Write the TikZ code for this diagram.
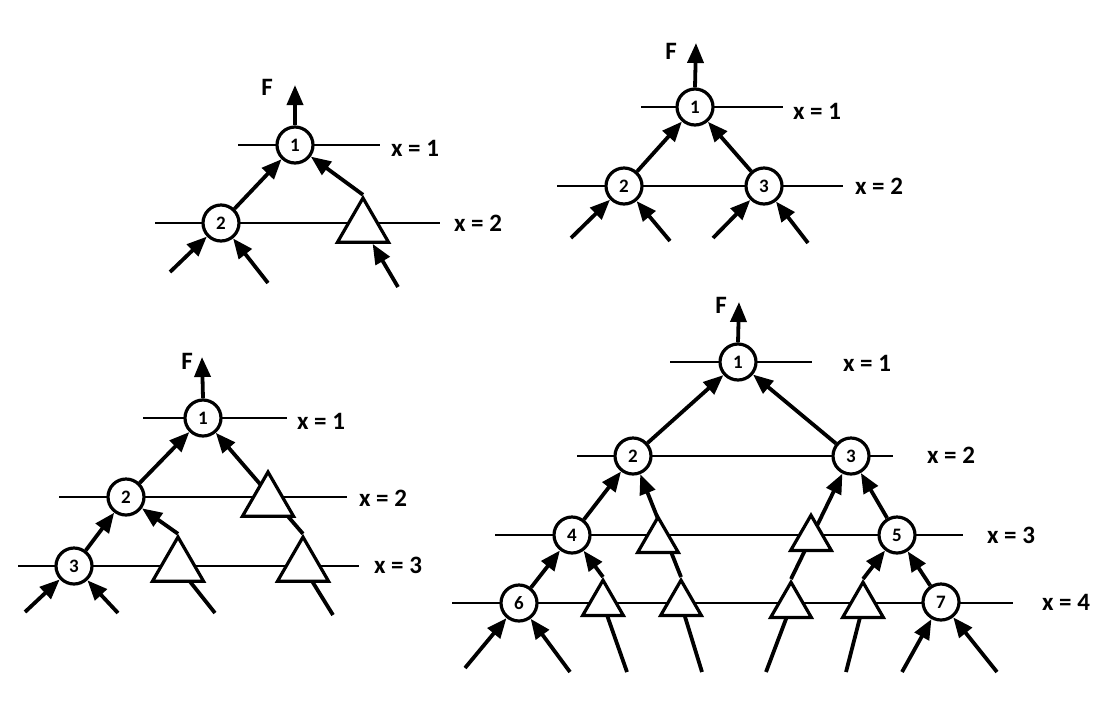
\documentclass[tikz,border=0pt]{standalone}
\usepackage{fontspec}
\setmainfont{Carlito}
\usetikzlibrary{arrows.meta,shapes.geometric}
\pgfdeclarelayer{background}
\pgfsetlayers{background,main}
\tikzset{
  circ/.style={circle,draw,line width=3.2pt,fill=white,minimum size=36pt,inner sep=0pt,outer sep=1.6pt,font=\bfseries\fontsize{19}{19}\selectfont},
  tribig/.style={regular polygon,regular polygon sides=3,draw,line width=3.2pt,fill=white,minimum size=59pt,inner sep=0pt,outer sep=1.6pt},
  trismall/.style={tribig,minimum size=47pt},
  lvl/.style={line width=2pt},
  arr/.style={line width=3.8pt,-{Triangle[length=20pt,width=16pt]}},
  plain/.style={line width=3.8pt},
  lab/.style={font=\bfseries\fontsize{25}{25}\selectfont,inner sep=0pt},
}
\begin{document}
\begin{tikzpicture}[x=1pt,y=-1pt]
\useasboundingbox (0,0) rectangle (1110,705);
% ---------- Diagram 1 ----------
\node[circ] (a1) at (295,145) {1};
\node[circ] (a2) at (221,223) {2};
\node[tribig] (at) at (363,227.5) {};
\node[lab] (aFl) at (267,87) {F};
\node[lab] (ax1) at (415,148) {x = 1};
\node[lab] (ax2) at (478,223) {x = 2};
\coordinate (aF) at (295,85);
\coordinate (aL1s) at (238,145); \coordinate (aL1e) at (380,145);
\coordinate (aL2s) at (155,223); \coordinate (aL2e) at (440,223);
\coordinate (ai1) at (170,272); \coordinate (ai2) at (268,283); \coordinate (ai3) at (398,287);
% ---------- Diagram 2 ----------
\node[circ] (b1) at (695,107) {1};
\node[circ] (b2) at (624,186) {2};
\node[circ] (b3) at (764,186) {3};
\node[lab] (bFl) at (671,51) {F};
\node[lab] (bx1) at (817,111) {x = 1};
\node[lab] (bx2) at (879,186) {x = 2};
\coordinate (bF) at (696,43);
\coordinate (bL1s) at (641,107); \coordinate (bL1e) at (783,107);
\coordinate (bL2s) at (557,186); \coordinate (bL2e) at (843,186);
\coordinate (bi1) at (571,238); \coordinate (bi2) at (670,241);
\coordinate (bi3) at (713,238); \coordinate (bi4) at (808,243);
% ---------- Diagram 3 ----------
\node[circ] (c1) at (203,418) {1};
\node[circ] (c2) at (126,497) {2};
\node[circ] (c3) at (74,566) {3};
\node[tribig] (ct2) at (268,501.5) {};
\node[tribig] (ct3a) at (178,566.5) {};
\node[tribig] (ct3b) at (303,566.5) {};
\node[lab] (cFl) at (187,361) {F};
\node[lab] (cx1) at (321,421) {x = 1};
\node[lab] (cx2) at (383,498) {x = 2};
\node[lab] (cx3) at (398,565) {x = 3};
\coordinate (cF) at (202,357);
\coordinate (cL1s) at (143,418); \coordinate (cL1e) at (287,418);
\coordinate (cL2s) at (59,497); \coordinate (cL2e) at (347,497);
\coordinate (cL3s) at (18,566); \coordinate (cL3e) at (359,566);
\coordinate (ci1) at (25,612); \coordinate (ci2) at (118,613);
\coordinate (ci3) at (215,613); \coordinate (ci4) at (333,615);
% ---------- Diagram 4 ----------
\node[circ] (d1) at (738,362) {1};
\node[circ] (d2) at (633,456) {2};
\node[circ] (d3) at (851,456) {3};
\node[circ] (d4) at (572,535) {4};
\node[circ] (d5) at (897,535) {5};
\node[circ] (d6) at (519,603) {6};
\node[circ] (d7) at (941,602) {7};
\node[trismall] (dtL) at (658,540.7) {};
\node[trismall] (dtR) at (811,538.7) {};
\node[trismall] (dtA) at (603,603.7) {};
\node[trismall] (dtB) at (681,603.7) {};
\node[trismall] (dtC) at (791,605.7) {};
\node[trismall] (dtD) at (863,605.7) {};
\node[lab] (dFl) at (721,305) {F};
\node[lab] (dx1) at (867,363) {x = 1};
\node[lab] (dx2) at (951,455) {x = 2};
\node[lab] (dx3) at (1011,535) {x = 3};
\node[lab] (dx4) at (1066,602) {x = 4};
\coordinate (dF) at (739,302);
\coordinate (dL1s) at (670,362); \coordinate (dL1e) at (812,362);
\coordinate (dL2s) at (577,456); \coordinate (dL2e) at (893,456);
\coordinate (dL3s) at (495,535); \coordinate (dL3e) at (963,535);
\coordinate (dL4s) at (452,603); \coordinate (dL4e) at (1013,603);
\coordinate (di1) at (465,668); \coordinate (di2) at (570,672);
\coordinate (di3) at (627,672); \coordinate (di4) at (702,672);
\coordinate (di5) at (766,672); \coordinate (di6) at (846,672);
\coordinate (di7) at (902,672); \coordinate (di8) at (997,672);
\begin{pgfonlayer}{background}
% diagram 1
\draw[lvl] (aL1s) -- (aL1e);
\draw[lvl] (aL2s) -- (aL2e);
\draw[arr] (a1.north) -- (aF);
\draw[arr] (a2) -- (a1);
\draw[arr] (at.corner 1) -- (a1);
\draw[arr] (ai1) -- (a2);
\draw[arr] (ai2) -- (a2);
\draw[arr] (ai3) -- (at);
% diagram 2
\draw[lvl] (bL1s) -- (bL1e);
\draw[lvl] (bL2s) -- (bL2e);
\draw[arr] (b1.north) -- (bF);
\draw[arr] (b2) -- (b1);
\draw[arr] (b3) -- (b1);
\draw[arr] (bi1) -- (b2);
\draw[arr] (bi2) -- (b2);
\draw[arr] (bi3) -- (b3);
\draw[arr] (bi4) -- (b3);
% diagram 3
\draw[lvl] (cL1s) -- (cL1e);
\draw[lvl] (cL2s) -- (cL2e);
\draw[lvl] (cL3s) -- (cL3e);
\draw[arr] (c1.north) -- (cF);
\draw[arr] (c2) -- (c1);
\draw[arr] (c3) -- (c2);
\draw[arr] (ct3a.corner 1) -- (c2);
\draw[arr] (ct3b.corner 1) -- (c1);
\draw[arr] (ci1) -- (c3);
\draw[arr] (ci2) -- (c3);
\draw[plain] (ci3) -- (ct3a.center);
\draw[plain] (ci4) -- (ct3b.center);
% diagram 4
\draw[lvl] (dL1s) -- (dL1e);
\draw[lvl] (dL2s) -- (dL2e);
\draw[lvl] (dL3s) -- (dL3e);
\draw[lvl] (dL4s) -- (dL4e);
\draw[arr] (d1.north) -- (dF);
\draw[arr] (d2) -- (d1);
\draw[arr] (d3) -- (d1);
\draw[arr] (d4) -- (d2);
\draw[arr] (d6) -- (d4);
\draw[arr] (d5) -- (d3);
\draw[arr] (d7) -- (d5);
\draw[arr] (dtA.corner 1) -- (d4);
\draw[arr] (dtB.corner 1) -- (d2);
\draw[arr] (dtC.corner 1) -- (d3);
\draw[arr] (dtD.corner 1) -- (d5);
\draw[arr] (di1) -- (d6);
\draw[arr] (di2) -- (d6);
\draw[arr] (di7) -- (d7);
\draw[arr] (di8) -- (d7);
\draw[plain] (di3) -- (dtA.center);
\draw[plain] (di4) -- (dtB.center);
\draw[plain] (di5) -- (dtC.center);
\draw[plain] (di6) -- (dtD.center);
\end{pgfonlayer}
\end{tikzpicture}
\end{document}
